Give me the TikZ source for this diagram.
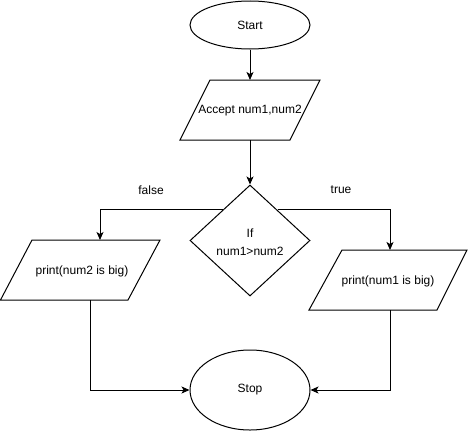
\documentclass[tikz,border=0pt]{standalone}
\usepackage{fontspec}
\setmainfont{Liberation Sans}
\usetikzlibrary{shapes.geometric,arrows.meta,calc}
\begin{document}
\begin{tikzpicture}[x=1pt,y=-1pt,
  line width=1pt,
  every node/.style={font=\fontsize{12}{15}\selectfont},
  flow/.style={-{Stealth[length=8pt,width=7pt,inset=2pt]}},
  terminal/.style={draw,ellipse,inner sep=0pt,minimum width=120pt},
  decision/.style={draw,diamond,inner sep=0pt,minimum width=120pt,minimum height=111pt},
  iobox/.style={draw}
]
\useasboundingbox (0,0) rectangle (470,431);

% terminals
\node[terminal,minimum height=48pt] (start) at (250,25) {Start};
\node[terminal,minimum height=80pt] (stop) at (250,390) {Stop};

% input parallelogram
\coordinate (accTop) at (250,80);
\coordinate (accBot) at (250,140);
\draw (210,80) -- (320,80) -- (290,140) -- (180,140) -- cycle;
\node (accept) at (250,111) {Accept num1,num2};

% decision
\node[decision] (dec) at (250,240.5) {};
\node[align=center,font=\fontsize{12}{18}\selectfont] (cond) at (250,242) {If\\num1>num2};

% output parallelograms
\coordinate (leftTop) at (100,240);
\coordinate (leftBot) at (90,300);
\draw (32,240) -- (160,240) -- (128,300) -- (0.5,300) -- cycle;
\node (printTwo) at (82,271) {print(num2 is big)};

\coordinate (rightTop) at (390,250);
\coordinate (rightBot) at (390,310);
\draw (342,250) -- (467,250) -- (437,310) -- (309,310) -- cycle;
\node (printOne) at (388,281) {print(num1 is big)};

% connectors
\draw[flow] (start.south) -- (accTop);
\draw[flow] (accBot) -- (dec.north);
\draw[flow] ($(dec.north)!0.4545!(dec.west)$) -| (leftTop);
\draw[flow] ($(dec.north)!0.4545!(dec.east)$) -| (rightTop);
\draw[flow] (leftBot) |- (stop.west);
\draw[flow] (rightBot) |- (stop.east);

% branch labels
\node (lblFalse) at (151,190) {false};
\node (lblTrue) at (341,190) {true};
\end{tikzpicture}
\end{document}
